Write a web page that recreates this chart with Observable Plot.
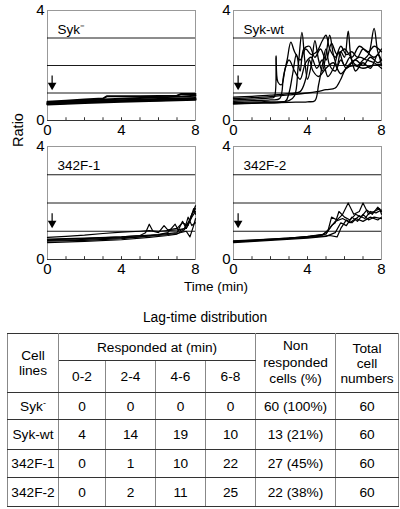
<!DOCTYPE html>
<html>
<head>
<meta charset="utf-8">
<script src="https://cdn.jsdelivr.net/npm/d3@7"></script>
<script src="https://cdn.jsdelivr.net/npm/@observablehq/plot@0.6"></script>
<style>
  html, body { margin: 0; padding: 0; background: #fff; }
  #root { position: relative; width: 400px; height: 509px; overflow: hidden; font-family: "Liberation Sans", Arial, Helvetica, sans-serif; color: #000; }
  .panel { position: absolute; }
  .lbl { position: absolute; font-size: 14px; line-height: 16px; white-space: nowrap; }
  #ratio { left: -2.5px; top: 122px; transform: rotate(-90deg); transform-origin: center; width: 40px; text-align: center; font-size: 14.5px; }
  #time { left: 160px; top: 279px; width: 112px; text-align: center; font-size: 13.5px; }
  #title { left: 0; top: 310px; width: 410px; text-align: center; font-size: 13.8px; }
  table { position: absolute; left: 7px; top: 333px; width: 391px; border-collapse: collapse; table-layout: fixed; font-size: 13.7px; text-align: center; }
  td { padding: 0; border-left: 1px solid #888; border-right: 1px solid #888; border-top: 1px solid #333; border-bottom: 1px solid #333; line-height: 15px; vertical-align: middle; overflow: visible; white-space: nowrap; }
  sup { font-size: 9px; vertical-align: 5px; line-height: 0; }
</style>
</head>
<body>
<div id="root">
  <div class="panel" id="p1" style="left:0;top:0"></div>
  <div class="panel" id="p2" style="left:200px;top:0"></div>
  <div class="panel" id="p3" style="left:0;top:137px"></div>
  <div class="panel" id="p4" style="left:200px;top:137px"></div>
  <div class="lbl" id="ratio">Ratio</div>
  <div class="lbl" id="time">Time (min)</div>
  <div class="lbl" id="title">Lag-time distribution</div>
  <div id="tablewrap"></div>
</div>
<script>
// ---------- chart data (time in min, fluorescence ratio) ----------
const xTickValues = [0, 4, 8];
const yTickValues = [0, 4];
const gridValues = [1, 2, 3];
const minorTickValues = [1, 2, 3, 4, 5, 6, 7];

const panelLabels = ["Syk\u207B", "Syk-wt", "342F-1", "342F-2"];
const arrowTime = [0.25, 0.25, 0.25, 0.25];
const arrowFrom = [1.62, 1.62, 1.62, 1.62];
const arrowTo = [1.28, 1.28, 1.28, 1.28];

const sykNegTraces = [
  [[0,0.68],[1,0.72],[2,0.76],[3,0.8],[3.2,0.88],[5,0.88],[7,0.9],[7.2,0.96],[8,0.96]],
  [[0,0.62],[2,0.68],[4,0.74],[6,0.78],[8,0.82]],
  [[0,0.58],[2,0.64],[4,0.68],[6,0.72],[8,0.75]],
  [[0,0.65],[1.5,0.7],[3,0.76],[5,0.82],[6.5,0.85],[8,0.9]],
  [[0,0.6],[3,0.7],[6,0.74],[8,0.78]]
];

const sykWtTraces = [
  [[0,0.75],[1,0.78],[2,0.82],[2.2,0.85],[2.3,2.35],[2.4,1.4],[2.6,1.3],[2.8,1.9],[3,2.2],[3.3,1.8],[3.6,1.5],[3.9,2.1],[4.2,2.3],[4.5,1.9],[4.8,2.2],[5.1,1.6],[5.4,1.9],[5.7,2.5],[6,2.0],[6.3,2.3],[6.6,1.8],[7,2.1],[7.4,1.9],[7.8,2.4],[8,2.0]],
  [[0,0.7],[1,0.72],[2,0.75],[2.5,0.8],[2.7,1.6],[2.9,2.2],[3.1,2.85],[3.3,2.5],[3.6,2.2],[3.9,2.6],[4.2,2.4],[4.5,2.5],[4.8,2.9],[5.0,3.1],[5.2,2.6],[5.5,2.3],[5.8,2.7],[6.1,2.4],[6.4,2.5],[6.7,2.3],[7,2.6],[7.3,2.5],[7.6,2.7],[8,2.5]],
  [[0,0.65],[1.5,0.68],[3,0.72],[3.3,0.9],[3.5,2.0],[3.7,3.2],[3.85,2.2],[4.0,1.5],[4.2,2.0],[4.4,2.9],[4.6,2.2],[4.8,1.8],[5.0,2.4],[5.2,3.1],[5.4,2.4],[5.6,2.0],[5.8,2.5],[6.0,2.3],[6.2,3.25],[6.4,2.2],[6.7,2.0],[7.0,2.2],[7.3,2.4],[7.6,3.35],[7.8,2.5],[8,2.2]],
  [[0,0.6],[1,0.62],[2,0.64],[3,0.66],[4,0.68],[4.4,0.72],[4.6,1.3],[4.8,2.0],[5.0,2.6],[5.2,2.0],[5.5,1.8],[5.8,2.2],[6.1,1.9],[6.4,2.1],[6.8,2.3],[7.2,2.2],[7.6,2.1],[8,1.9]],
  [[0,0.85],[1,0.88],[2,0.92],[3,0.98],[3.6,1.05],[3.9,1.5],[4.1,2.2],[4.3,1.8],[4.6,1.6],[5,1.9],[5.4,2.1],[5.8,1.7],[6.2,2.0],[6.6,2.2],[7,2.0],[7.4,2.3],[7.8,2.1],[8,2.2]],
  [[0,0.8],[1,0.83],[2,0.87],[3,0.93],[4,1.0],[4.5,1.05],[5,1.12],[5.5,1.18],[5.8,1.5],[6.1,1.9],[6.5,2.0],[7,1.9],[7.5,2.0],[8,2.05]],
  [[0,0.62],[1.5,0.65],[2.8,0.7],[3.0,1.0],[3.2,1.7],[3.4,2.4],[3.6,1.8],[3.8,2.6],[4.1,2.7],[4.4,2.3],[4.7,2.6],[5.0,2.2],[5.3,2.8],[5.6,2.4],[6.0,2.6],[6.4,2.3],[6.8,2.7],[7.2,2.5],[7.6,2.3],[8,2.6]]
];

const f1Traces = [
  [[0,0.78],[1,0.82],[2,0.86],[3,0.92],[4,0.97],[5,1.0],[5.5,1.02],[6,1.0],[7,1.05],[7.5,1.1],[7.8,1.5],[8,1.7]],
  [[0,0.7],[2,0.74],[4,0.8],[5,0.85],[5.3,0.95],[5.5,1.25],[5.7,1.0],[6,0.95],[6.3,1.2],[6.5,1.05],[7,1.1],[7.3,1.3],[7.6,1.2],[7.9,1.8],[8,1.6]],
  [[0,0.65],[2,0.68],[4,0.74],[5,0.8],[6,0.88],[6.5,0.95],[6.9,1.25],[7.1,1.0],[7.4,1.1],[7.7,1.4],[8,1.9]],
  [[0,0.6],[2,0.64],[4,0.7],[5.5,0.78],[6.5,0.85],[7,0.9],[7.4,1.05],[7.6,1.5],[7.8,1.2],[8,1.3]],
  [[0,0.68],[1.5,0.7],[3,0.74],[4.5,0.78],[6,0.85],[7,0.92],[7.5,1.0],[7.7,0.8],[7.9,1.2],[8,1.45]],
  [[0,0.72],[2,0.76],[4,0.8],[6,0.88],[7,0.95],[7.3,1.35],[7.5,1.1],[7.8,1.6],[8,1.8]]
];

const f2Traces = [
  [[0,0.62],[1,0.66],[2,0.7],[3,0.75],[4,0.8],[4.8,0.88],[5.1,1.0],[5.3,1.5],[5.6,1.4],[5.9,1.6],[6.2,2.0],[6.5,1.6],[6.8,1.7],[7.0,2.0],[7.3,1.6],[7.6,1.7],[7.9,1.8],[8,1.6]],
  [[0,0.65],[1,0.68],[2,0.72],[3,0.76],[4,0.82],[5,0.9],[5.3,1.2],[5.5,1.3],[5.7,1.7],[6.0,1.5],[6.3,1.4],[6.6,1.6],[6.9,1.5],[7.2,1.75],[7.5,1.6],[7.8,1.85],[8,1.7]],
  [[0,0.6],[2,0.68],[4,0.76],[5,0.82],[5.5,0.95],[5.8,1.3],[6.1,1.2],[6.4,1.5],[6.7,1.35],[7.0,1.6],[7.3,1.4],[7.6,1.5],[8,1.45]],
  [[0,0.63],[2,0.7],[4,0.78],[5.2,0.85],[5.6,0.8],[5.8,1.1],[6.1,1.4],[6.4,1.3],[6.8,1.55],[7.1,1.45],[7.4,1.7],[7.7,1.65],[8,1.75]],
  [[0,0.66],[2,0.72],[4,0.8],[4.8,0.86],[5.2,1.1],[5.5,1.35],[5.9,1.45],[6.3,1.3],[6.6,1.45],[7,1.35],[7.4,1.5],[7.8,1.4],[8,1.5]]
];

// ---------- table data ----------
const tableCellLines = ["Syk\u207B", "Syk-wt", "342F-1", "342F-2"];
const lag0to2 = [0, 4, 0, 0];
const lag2to4 = [0, 14, 1, 2];
const lag4to6 = [0, 19, 10, 11];
const lag6to8 = [0, 10, 22, 25];
const nonRespondedCells = [60, 13, 27, 22];
const nonRespondedPct = [100, 21, 45, 38];
const totalCellNumbers = [60, 60, 60, 60];
const lagBins = ["0-2", "2-4", "4-6", "6-8"];

// ---------- drawing ----------
const FONT = '"Liberation Sans", Arial, Helvetica, sans-serif';

function panel(i, traces, geom) {
  const data = traces.flatMap((tr, k) => tr.map(([t, r]) => ({t, r, id: k})));
  const arrow = [{t: arrowTime[i], from: arrowFrom[i], to: arrowTo[i]}];
  return Plot.plot({
    width: 200,
    height: geom.height,
    marginLeft: geom.ml, marginRight: geom.mr, marginTop: geom.mt, marginBottom: geom.mb,
    style: {fontFamily: FONT, fontSize: "15px", color: "#000", background: "transparent", overflow: "visible"},
    x: {domain: [0, 8], ticks: xTickValues, tickFormat: d3.format("d"), tickSize: 0, tickPadding: 4, label: null},
    y: {domain: [0, 4], ticks: yTickValues, tickFormat: d3.format("d"), tickSize: 0, tickPadding: 3, label: null},
    marks: [
      Plot.frame({stroke: "#999"}),
      Plot.ruleY(gridValues, {stroke: "#000", strokeWidth: 0.9}),
      Plot.ruleY([0], {stroke: "#333"}),
      Plot.ruleX(minorTickValues, {y1: 0, y2: 0.1, stroke: "#333"}),
      Plot.line(data, {x: "t", y: "r", z: "id", stroke: "#000", strokeWidth: geom.sw, strokeLinejoin: "round", curve: geom.curve || "linear"}),
      Plot.ruleX(arrow, {x: "t", y1: "from", y2: "to", stroke: "#000", strokeWidth: 1.2}),
      Plot.dot(arrow, {x: "t", y: "to", symbol: "triangle", r: 3.2, fill: "#000", stroke: "none", rotate: 180}),
      Plot.text([panelLabels[i]], {text: d => d, frameAnchor: "top-left", textAnchor: "start", dx: 10, dy: 14, fontSize: 13.5})
    ]
  });
}

const topG = {height: 140, mt: 10, mb: 20};
const botG = {height: 145, mt: 9, mb: 23};
document.getElementById("p1").append(panel(0, sykNegTraces, {...topG, ml: 47, mr: 5, sw: 2}));
document.getElementById("p2").append(panel(1, sykWtTraces, {...topG, ml: 33, mr: 19, sw: 1.3, curve: "catmull-rom"}));
document.getElementById("p3").append(panel(2, f1Traces, {...botG, ml: 47, mr: 5, sw: 1.2}));
document.getElementById("p4").append(panel(3, f2Traces, {...botG, ml: 33, mr: 19, sw: 1.2}));

// ---------- table ----------
function cellName(s) {
  return s.endsWith("\u207B") ? s.slice(0, -1) + "<sup>-</sup>" : s;
}
let html = '<table><colgroup>' +
  [51, 47, 50, 50, 50, 80, 63].map(w => `<col style="width:${w}px">`).join("") +
  '</colgroup>';
html += '<tr style="height:27px"><td rowspan="2">Cell<br>lines</td><td colspan="4">Responded at (min)</td>' +
  '<td rowspan="2" style="line-height:16.5px">Non<br>responded<br>cells (%)</td><td rowspan="2">Total<br>cell<br>numbers</td></tr>';
html += '<tr style="height:32px">' + lagBins.map(b => `<td>${b}</td>`).join("") + '</tr>';
const rowH = [27, 30, 28, 29];
tableCellLines.forEach((c, i) => {
  html += `<tr style="height:${rowH[i]}px"><td>${cellName(c)}</td><td>${lag0to2[i]}</td><td>${lag2to4[i]}</td><td>${lag4to6[i]}</td><td>${lag6to8[i]}</td>` +
    `<td>${nonRespondedCells[i]} (${nonRespondedPct[i]}%)</td><td>${totalCellNumbers[i]}</td></tr>`;
});
html += '</table>';
document.getElementById("tablewrap").innerHTML = html;
</script>
</body>
</html>
